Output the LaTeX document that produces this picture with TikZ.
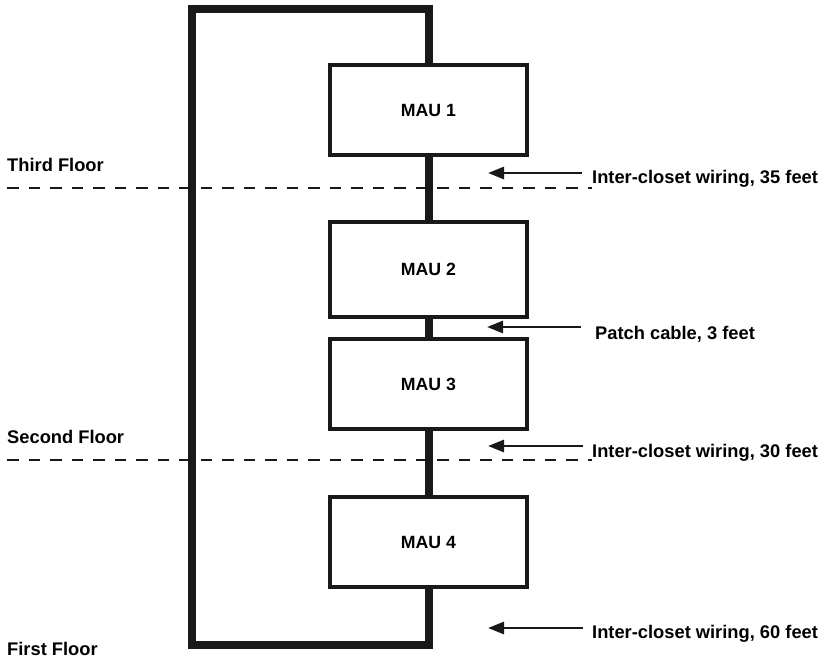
\documentclass[tikz,border=0pt]{standalone}
\usepackage{fontspec}
\setmainfont{Liberation Sans}
\usetikzlibrary{arrows.meta}
\begin{document}
\begin{tikzpicture}[x=1pt,y=-1pt,
  txt/.style={font=\fontsize{18.3}{21}\selectfont\bfseries, inner sep=0pt},
  maubox/.style={draw=black!90, line width=4pt, fill=white, minimum width=197pt, inner sep=0pt, font=\fontsize{17.7}{20}\selectfont\bfseries},
  loopline/.style={line width=8pt, draw=black!90, line join=miter},
  floorline/.style={line width=2.8pt, draw=black!90, dash pattern=on 11.5pt off 10pt},
  arr/.style={line width=2.8pt, draw=black!90, -{Triangle[length=16pt,width=12pt]}}]
\useasboundingbox (0,0) rectangle (832,659);
% loop (drawn first, boxes cover it)
\draw[loopline] (429,150) -- (429,9) -- (192,9) -- (192,645) -- (429,645) -- (429,560);
\draw[loopline] (429,150) -- (429,560);
% boxes
\node[maubox, minimum height=90pt] (mau1) at (428.5,110) {MAU 1};
\node[maubox, minimum height=95pt] (mau2) at (428.5,269.5) {MAU 2};
\node[maubox, minimum height=90pt] (mau3) at (428.5,384) {MAU 3};
\node[maubox, minimum height=90pt] (mau4) at (428.5,542) {MAU 4};
% floor lines
\draw[floorline] (7,188) -- (592,188);
\draw[floorline] (7,460) -- (592,460);
% floor labels
\node[txt, anchor=base west] (f3) at (7,171) {Third Floor};
\node[txt, anchor=base west] (f2) at (7,443) {Second Floor};
\node[txt, anchor=base west] (f1) at (7,655) {First Floor};
% right labels
\node[txt, anchor=base west] (l1) at (592,183) {Inter-closet wiring, 35 feet};
\node[txt, anchor=base west] (l2) at (595,339) {Patch cable, 3 feet};
\node[txt, anchor=base west] (l3) at (592,457) {Inter-closet wiring, 30 feet};
\node[txt, anchor=base west] (l4) at (592,638) {Inter-closet wiring, 60 feet};
% arrows
\coordinate (s1) at (582,173); \coordinate (t1) at (488,173);
\coordinate (s2) at (581,327); \coordinate (t2) at (487,327);
\coordinate (s3) at (583,446); \coordinate (t3) at (488,446);
\coordinate (s4) at (583,628); \coordinate (t4) at (488,628);
\draw[arr] (s1) -- (t1);
\draw[arr] (s2) -- (t2);
\draw[arr] (s3) -- (t3);
\draw[arr] (s4) -- (t4);
\end{tikzpicture}
\end{document}
